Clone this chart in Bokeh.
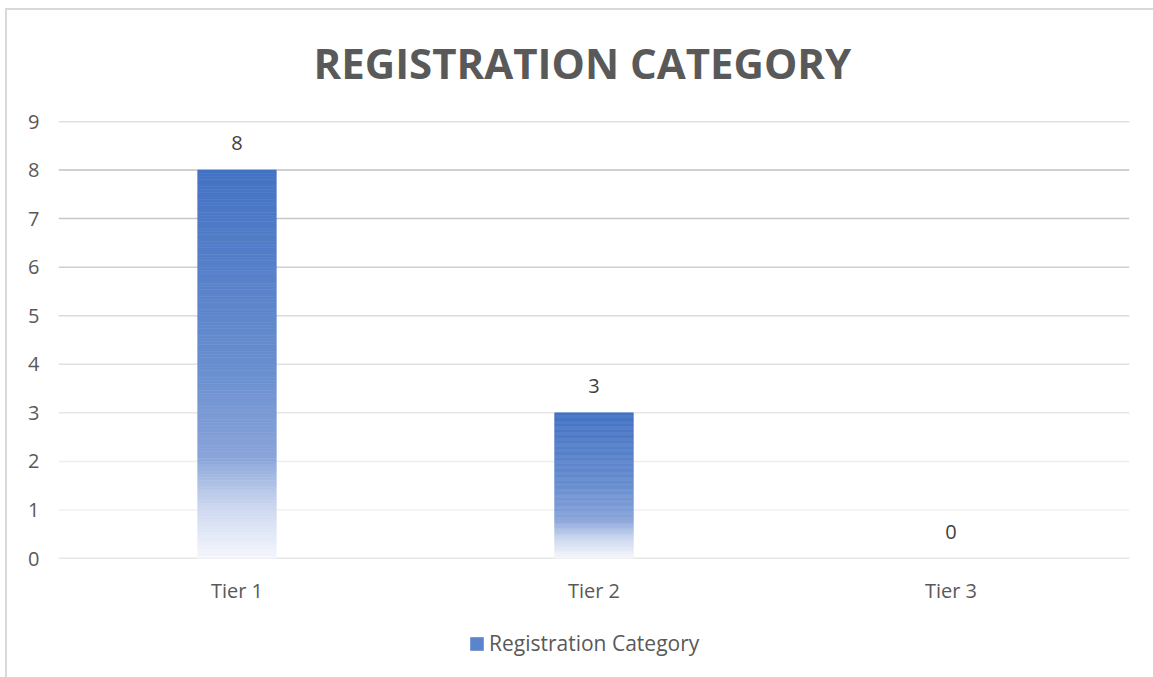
import numpy as np
from bokeh.plotting import figure
from bokeh.layouts import column
from bokeh.models import (ColumnDataSource, FactorRange, FixedTicker, Span,
                          LabelSet, Legend, LegendItem)
from bokeh.core.properties import value
from bokeh.embed import file_html
from bokeh.resources import INLINE

# ---- data ----
title_text = "REGISTRATION CATEGORY"
series_name = "Registration Category"
categories = ["Tier 1", "Tier 2", "Tier 3"]
counts = [8, 3, 0]
y_ticks = [0, 1, 2, 3, 4, 5, 6, 7, 8, 9]

FONT = "Open Sans"
TXT = "#595959"

W = 1153
H_MAIN, H_LEG = 620, 57
p = figure(width=W, height=H_MAIN, output_backend="svg", toolbar_location=None,
           x_range=FactorRange(factors=categories, range_padding=0),
           y_range=(0, 9),
           min_border_left=58, min_border_right=24,
           min_border_top=121, min_border_bottom=62)
p.background_fill_color = "white"
p.border_fill_alpha = 0
p.outline_line_color = None
p.xgrid.grid_line_color = None
p.ygrid.grid_line_color = None

# title
p.title.text = title_text
p.title.align = "left"
p.title.offset = 255
p.title.standoff = 62
p.title.text_font = FONT
p.title.text_font_size = "42px"
p.title.text_font_style = "bold"
p.title.text_color = TXT

# gridlines with fading grey (top darker, bottom lighter, baseline darker)
grid_colors = ["#D0D0D0", "#F0F0F0", "#EDEDED", "#E6E6E6", "#E1E1E1",
               "#DADADA", "#D0D0D0", "#C8C8C8", "#C2C2C2", "#C2C2C2"]
for yv, gc in zip(y_ticks, grid_colors):
    p.add_layout(Span(location=yv, dimension="width", line_color=gc,
                      line_width=1.5, level="underlay"))

# gradient bars: slices computed from each bar's value
stops_t = [0.0, 0.5, 0.74, 0.80, 0.87, 1.0]
stops_c = np.array([(68, 114, 196), (104, 142, 207), (137, 164, 218),
                    (170, 190, 228), (205, 216, 240), (245, 247, 252)], dtype=float)

def grad(t):
    r = np.interp(t, stops_t, stops_c[:, 0])
    g = np.interp(t, stops_t, stops_c[:, 1])
    b = np.interp(t, stops_t, stops_c[:, 2])
    return "#%02x%02x%02x" % (int(round(r)), int(round(g)), int(round(b)))

N = 120
xs, tops, bottoms, cols = [], [], [], []
for cat, v in zip(categories, counts):
    if v <= 0:
        continue
    for i in range(N):
        t0 = i / N
        t1 = (i + 1) / N
        xs.append(cat)
        tops.append(v * (1 - t0))
        bottoms.append(v * (1 - t1))
        cols.append(grad((t0 + t1) / 2))

src = ColumnDataSource(dict(x=xs, top=tops, bottom=bottoms, c=cols))
p.vbar(x="x", top="top", bottom="bottom", width=0.22, source=src,
       fill_color="c", line_color="c", line_width=0.6)

# data labels
lab_src = ColumnDataSource(dict(x=categories, y=counts, t=[str(c) for c in counts]))
p.add_layout(LabelSet(x="x", y="y", text="t", source=lab_src, y_offset=27,
                      text_align="center", text_baseline="middle",
                      text_font=value(FONT), text_font_size="20px",
                      text_color="#404040"))

# axes
p.yaxis.ticker = FixedTicker(ticks=y_ticks)
for ax in (p.xaxis[0], p.yaxis[0]):
    ax.axis_line_color = None
    ax.major_tick_line_color = None
    ax.minor_tick_line_color = None
    ax.major_label_text_font = FONT
    ax.major_label_text_font_size = "20px"
    ax.major_label_text_color = TXT
p.yaxis.major_label_standoff = 13
p.xaxis.major_label_standoff = 12

# legend strip below the chart
lf = figure(width=W, height=H_LEG, output_backend="svg", toolbar_location=None,
            x_range=(0, 1), y_range=(0, 1), x_axis_location=None,
            y_axis_location=None, min_border=0)
lf.outline_line_color = None
lf.xgrid.grid_line_color = None
lf.ygrid.grid_line_color = None
lf.background_fill_alpha = 0
lf.border_fill_alpha = 0
swatch = lf.vbar(x=[-5], top=[-5], width=0.2, fill_color="#5A84CC",
                 line_color=None)
leg = Legend(items=[LegendItem(label=series_name, renderers=[swatch])],
             location=(410, 20), orientation="horizontal",
             glyph_width=17, glyph_height=17, label_standoff=4,
             label_text_font=FONT, label_text_font_size="21px",
             label_text_color=TXT, padding=0, margin=0, spacing=0,
             border_line_color=None, background_fill_alpha=0,
             label_height=20)
lf.add_layout(leg, "center")

border = "linear-gradient(#D9D9D9, #D9D9D9)"
layout = column(p, lf, spacing=0, styles={
    "background": (f"{border} 5px 8px / 100% 2px no-repeat, "
                   f"{border} 5px 8px / 2px 100% no-repeat, #ffffff")})
open("out.html", "w").write(file_html(layout, INLINE))
